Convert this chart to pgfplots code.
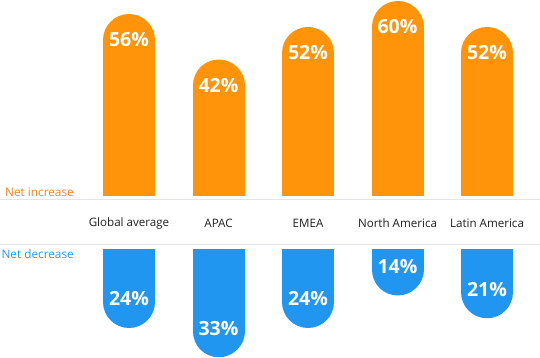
\documentclass[border=0pt]{standalone}
\usepackage{pgfplots}
\pgfplotsset{compat=1.18}
\usepackage{pgfplotstable}
\usepackage{fontspec}
\setmainfont{Open Sans}
\definecolor{barorange}{HTML}{FF940A}
\definecolor{barblue}{HTML}{2196F0}
\definecolor{incorange}{HTML}{F28020}
\definecolor{decblue}{HTML}{2596EC}
\definecolor{gridgray}{HTML}{E3E3EA}
\pgfplotstableread{
x v
0 56
1 42
2 52
3 60
4 52
}\inc
\pgfplotstableread{
x v
0 24
1 33
2 24
3 14
4 21
}\dec
\begin{document}
\begin{tikzpicture}
\useasboundingbox (0pt,0pt) rectangle (540pt,358pt);
\draw[gridgray, line width=1pt] (0pt,158.5pt) -- (540pt,158.5pt);
\draw[gridgray, line width=1pt] (0pt,113pt) -- (540pt,113pt);
\pgfplotsset{barax/.style={scale only axis, width=540pt, xmin=-1.4413, xmax=4.5922,
  axis line style={draw=none}, major tick length=0pt, ytick=\empty, clip=true,
  point meta=explicit,
  /pgf/number format/assume math mode=true,
  nodes near coords={\pgfmathprintnumber{\pgfplotspointmeta}\%},
  nodes near coords style={anchor=center, text=white, font=\bfseries\fontsize{19.5}{20}\selectfont}}}
\begin{axis}[barax, at={(0pt,162pt)}, anchor=south west, height=196pt, ymin=0, ymax=60.3077,
  xtick=data, xticklabels={Global average, APAC, EMEA, North America, Latin America},
  xticklabel style={anchor=center, yshift=-27pt, font=\fontsize{11.6}{13}\selectfont, text=black!88}]
\addplot[ycomb, draw=barorange, line width=52pt, line cap=round, mark=none]
  table[x=x, y expr=\thisrow{v}-8, meta=v]{\inc};
\end{axis}
\begin{axis}[barax, at={(0pt,0pt)}, anchor=south west, height=108pt, ymin=-33.2308, ymax=0,
  xtick=\empty, nodes near coords style={yshift=3pt}]
\addplot[ycomb, draw=barblue, line width=52pt, line cap=round, mark=none]
  table[x=x, y expr=8-\thisrow{v}, meta=v]{\dec};
\end{axis}
\node[anchor=east, text=incorange, font=\fontsize{11.8}{13}\selectfont, inner sep=0pt] at (74pt,166pt) {Net increase};
\node[anchor=east, text=decblue, font=\fontsize{11.8}{13}\selectfont, inner sep=0pt] at (74pt,104pt) {Net decrease};
\end{tikzpicture}
\end{document}
